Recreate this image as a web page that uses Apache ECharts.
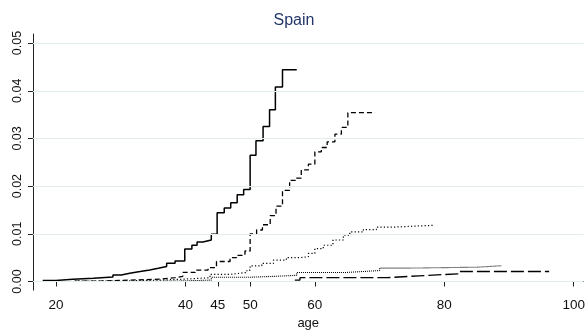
<!DOCTYPE html>
<html><head><meta charset="utf-8">
<script src="https://cdn.jsdelivr.net/npm/echarts@6/dist/echarts.min.js"></script>
<style>html,body{margin:0;padding:0;background:#fff}#c{width:588px;height:335px}</style>
</head><body><div id="c"></div>
<script>
var title = "Spain";
var xName = "age";
var xTicks = [20, 40, 45, 50, 60, 80, 100];
var yTicks = [0, 0.01, 0.02, 0.03, 0.04, 0.05];

var solidAge = [17.95,20.0,22.6,25.8,28.8,30.1,31.4,33.0,34.5,35.8,37.1,38.4,39.9,41.0,41.8,42.7,44.0,44.9,46.0,47.0,48.0,49.0,50.0,50.9,52.0,53.0,53.9,55.0,57.2];
var solidVal = [0.0002,0.00048,0.00069,0.00096,0.00138,0.00173,0.00208,0.00242,0.00277,0.00313,0.00381,0.00429,0.0068,0.0076,0.0083,0.0087,0.0099,0.0144,0.0154,0.0165,0.0182,0.0193,0.0265,0.0295,0.0325,0.0360,0.0408,0.0444,0.0444];

var dashAge = [22.9,26.8,31.4,36.1,38.4,39.6,41.5,43.5,44.8,46.9,47.9,49.2,50.0,51.0,51.9,53.1,54.0,55.0,56.1,57.1,57.9,59.0,60.0,61.0,61.9,63.1,64.1,65.1,69.3];
var dashVal = [0.0001,0.0003,0.0005,0.0008,0.0011,0.0019,0.0024,0.0029,0.0042,0.0050,0.0055,0.0064,0.0100,0.0108,0.0119,0.0138,0.0158,0.0191,0.0212,0.0217,0.0234,0.0246,0.0272,0.0281,0.0293,0.0309,0.0323,0.0354,0.0354];

var dotAge = [22.9,29.9,36.1,39.9,43.8,46.9,49.5,50.0,51.8,53.6,55.6,57.7,59.0,60.0,61.3,62.8,64.4,65.4,67.5,69.5,72.1,78.5];
var dotVal = [0.0001,0.0003,0.0005,0.0008,0.0015,0.0019,0.0024,0.0033,0.0038,0.0045,0.0050,0.0052,0.0059,0.0069,0.0076,0.0087,0.0097,0.0104,0.0109,0.0114,0.0118,0.0118];

var fineAge = [22.9,31.4,38.4,41.5,44.0,50.0,54.1,57.2,64.9,70.0,73.9,85.0,88.8];
var fineVal = [0.0000,0.0001,0.0002,0.0003,0.0009,0.0011,0.0013,0.0019,0.0023,0.0028,0.0030,0.0033,0.0033];

var longAge = [56.9,57.7,71.1,76.1,82.1,96.2];
var longVal = [0.0003,0.0008,0.0012,0.0016,0.0021,0.0021];

function pairs(a, v) { return a.map(function (x, i) { return [x, v[i]]; }); }

var chart = echarts.init(document.getElementById('c'), null, {renderer: 'canvas'});
var font = '"Liberation Sans", Arial, sans-serif';
function ser(a, v, type, w) {
  return {type: 'line', step: 'end', showSymbol: false, symbol: 'none', silent: true,
    data: pairs(a, v), lineStyle: {color: '#000', width: w, type: type}, z: 3};
}
chart.setOption({
  animation: false,
  title: {text: title, left: 'center', top: 8, textStyle: {fontFamily: font, fontSize: 16, fontWeight: 'normal', color: '#24356a'}},
  grid: {left: 33, right: 4, top: 34, bottom: 43},
  xAxis: {
    type: 'value', min: 16.45, max: 101.5,
    name: xName, nameLocation: 'middle', nameGap: 25,
    nameTextStyle: {fontFamily: font, fontSize: 13, color: '#111'},
    axisLine: {show: true, lineStyle: {color: '#222', width: 1}},
    axisTick: {show: true, length: 5, customValues: xTicks, lineStyle: {color: '#222'}},
    axisLabel: {customValues: xTicks, margin: 8, fontFamily: font, fontSize: 13.5, color: '#111'},
    splitLine: {show: false}
  },
  yAxis: {
    type: 'value', min: -0.0018, max: 0.0519,
    axisLine: {show: true, lineStyle: {color: '#222', width: 1}},
    axisTick: {show: true, length: 5, customValues: yTicks, lineStyle: {color: '#222'}},
    axisLabel: {customValues: yTicks, rotate: 90, margin: 9, fontFamily: font, fontSize: 12.5, color: '#111',
      formatter: function (v) { return v.toFixed(2); }},
    splitLine: {show: false}
  },
  series: [
    ser(solidAge, solidVal, 'solid', 1.5),
    ser(dashAge, dashVal, [5, 3], 1.3),
    ser(dotAge, dotVal, [1.2, 2.2], 1.2),
    ser(fineAge, fineVal, [1, 1], 1.1),
    ser(longAge, longVal, [13, 4], 1.3),
    {type: 'line', data: [], silent: true,
      markLine: {silent: true, symbol: 'none', label: {show: false},
        lineStyle: {color: '#e3eded', width: 1, type: 'solid'},
        data: yTicks.map(function (t) { return {yAxis: t}; })}, z: 1}
  ]
});
</script></body></html>
